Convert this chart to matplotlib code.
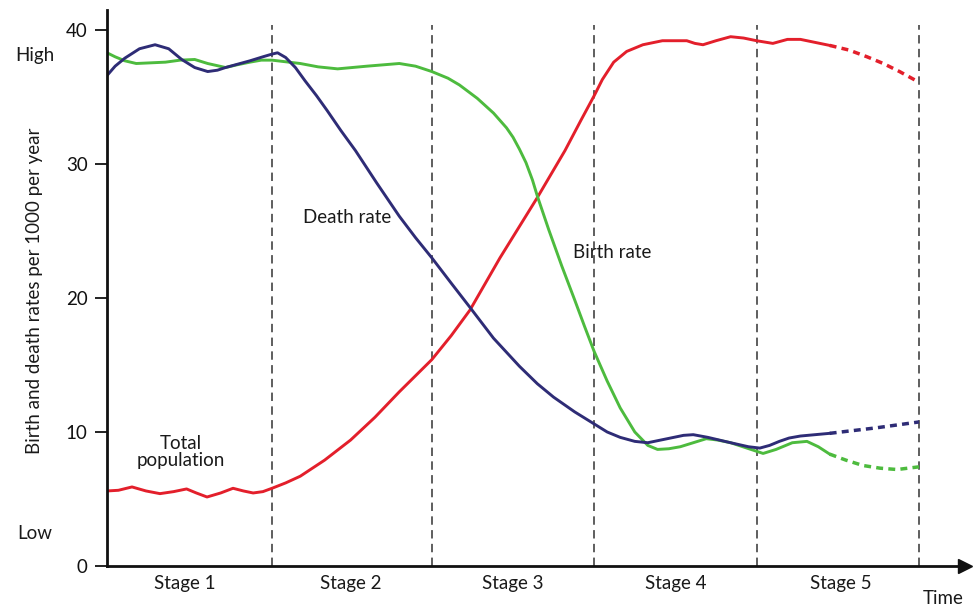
#!/usr/bin/env python

'''
demographic transition model: birth, death rates and total population
'''

import matplotlib
matplotlib.use('Agg')
import matplotlib.pyplot as plt

plt.rcParams['font.family'] = ['Lato', 'DejaVu Sans']

# time axis is measured in stages (0 .. 5)
DEATH_X = [0.0, 0.05, 0.11, 0.2, 0.296, 0.38, 0.46, 0.54, 0.62, 0.68, 0.73,
           0.88, 0.96, 1.016, 1.05, 1.10, 1.16, 1.22, 1.29, 1.355, 1.44, 1.53,
           1.66, 1.80, 1.90, 2.0, 2.12, 2.235, 2.38, 2.54, 2.65, 2.75, 2.88,
           3.0, 3.08, 3.16, 3.25, 3.33, 3.45, 3.55, 3.61, 3.70, 3.84, 3.95,
           4.02, 4.08, 4.14, 4.20, 4.27, 4.36, 4.45]
DEATH_Y = [36.6, 37.3, 37.9, 38.6, 38.9, 38.6, 37.8, 37.2, 36.9, 37.0, 37.2,
           37.7, 38.0, 38.2, 38.3, 37.95, 37.2, 36.2, 35.1, 34.0, 32.5, 31.0,
           28.6, 26.1, 24.5, 23.0, 21.1, 19.3, 17.0, 14.9, 13.6, 12.6, 11.5,
           10.6, 10.0, 9.6, 9.3, 9.2, 9.5, 9.75, 9.8, 9.6, 9.2, 8.9,
           8.8, 9.0, 9.3, 9.55, 9.7, 9.8, 9.9]
DEATH_PROJ_X = [4.45, 4.73, 5.0]
DEATH_PROJ_Y = [9.9, 10.3, 10.75]

BIRTH_X = [0.0, 0.05, 0.11, 0.18, 0.27, 0.36, 0.45, 0.54, 0.62, 0.73, 0.80,
           0.88, 0.95, 1.016, 1.19, 1.30, 1.42, 1.60, 1.80, 1.90, 2.0, 2.10,
           2.17, 2.28, 2.38, 2.46, 2.50, 2.54, 2.58, 2.62, 2.65, 2.72, 2.80,
           2.88, 2.94, 3.0, 3.08, 3.16, 3.25, 3.33, 3.39, 3.46, 3.53, 3.61,
           3.69, 3.76, 3.84, 3.94, 4.04, 4.12, 4.22, 4.31, 4.38, 4.45]
BIRTH_Y = [38.3, 38.0, 37.7, 37.5, 37.55, 37.6, 37.75, 37.8, 37.5, 37.2, 37.4,
           37.6, 37.75, 37.75, 37.5, 37.25, 37.1, 37.3, 37.5, 37.3, 36.9, 36.4,
           35.9, 34.9, 33.8, 32.7, 32.0, 31.1, 30.1, 28.8, 27.6, 25.1, 22.4,
           19.85, 17.9, 16.0, 13.8, 11.8, 10.0, 9.0, 8.7, 8.75, 8.9, 9.2,
           9.5, 9.4, 9.2, 8.8, 8.4, 8.7, 9.2, 9.3, 8.9, 8.35]
BIRTH_PROJ_X = [4.45, 4.55, 4.655, 4.76, 4.865, 5.0]
BIRTH_PROJ_Y = [8.35, 7.9, 7.5, 7.3, 7.2, 7.4]

POP_X = [0.0, 0.07, 0.154, 0.24, 0.326, 0.41, 0.49, 0.55, 0.616, 0.70, 0.776,
         0.84, 0.90, 0.96, 1.016, 1.10, 1.19, 1.34, 1.50, 1.65, 1.80, 1.90,
         2.0, 2.12, 2.235, 2.42, 2.65, 2.82, 2.92, 3.0, 3.05, 3.12, 3.20,
         3.30, 3.42, 3.57, 3.62, 3.67, 3.75, 3.84, 3.92, 4.0, 4.10, 4.19,
         4.27, 4.35, 4.45]
POP_Y = [5.6, 5.65, 5.9, 5.6, 5.4, 5.55, 5.75, 5.45, 5.15, 5.45, 5.8,
         5.6, 5.45, 5.55, 5.8, 6.2, 6.7, 7.9, 9.4, 11.1, 13.0, 14.2,
         15.4, 17.2, 19.1, 23.0, 27.5, 31.0, 33.3, 35.1, 36.3, 37.6, 38.4,
         38.9, 39.2, 39.2, 39.0, 38.9, 39.2, 39.5, 39.4, 39.2, 39.0, 39.3,
         39.3, 39.1, 38.85]
POP_PROJ_X = [4.45, 4.57, 4.68, 4.78, 4.88, 5.0]
POP_PROJ_Y = [38.85, 38.5, 38.0, 37.5, 36.9, 36.1]

STAGE_EDGES = [1.016, 2.0, 3.0, 4.0, 5.0]
STAGE_CENTERS = [0.48, 1.5, 2.5, 3.5, 4.52]
STAGE_LABELS = ['Stage 1', 'Stage 2', 'Stage 3', 'Stage 4', 'Stage 5']
Y_TICKS = [0, 10, 20, 30, 40]

NAVY = '#2e2c76'
GREEN = '#4dbb3e'
RED = '#e31f2b'
TEXT = '#1a1a1a'
LW = 2.1
PROJ_STYLE = (0, (2.0, 1.5))
FS = 13.5


def main():
    fig = plt.figure(figsize=(9.73, 6.07), dpi=100)
    ax = fig.add_axes([107 / 973, 41 / 607, (965 - 107) / 973, (566 - 10) / 607])
    ax.set_xlim(0, (965 - 107) / 162.4)
    ax.set_ylim(0, 556 / 13.4)

    for side in ('top', 'right'):
        ax.spines[side].set_visible(False)
    for side in ('left', 'bottom'):
        ax.spines[side].set_linewidth(2.0)
        ax.spines[side].set_color('#111111')

    ax.set_yticks(Y_TICKS)
    ax.tick_params(axis='y', direction='out', length=9, width=1.3,
                   labelsize=FS, pad=5, colors='#111111')
    ax.set_xticks([])

    # arrow head on the time axis
    ax.plot(1, 0, '>', color='#111111', markersize=10,
            transform=ax.transAxes, clip_on=False)

    ax.vlines(STAGE_EDGES, 0, 40.4, colors='#333333', linewidth=1.1,
              linestyles=[(0, (5.5, 3.5))])

    ax.plot(POP_X, POP_Y, color=RED, lw=LW, solid_joinstyle='round')
    ax.plot(POP_PROJ_X, POP_PROJ_Y, color=RED, lw=LW + 0.4, linestyle=PROJ_STYLE)
    ax.plot(BIRTH_X, BIRTH_Y, color=GREEN, lw=LW, solid_joinstyle='round')
    ax.plot(BIRTH_PROJ_X, BIRTH_PROJ_Y, color=GREEN, lw=LW + 0.4, linestyle=PROJ_STYLE)
    ax.plot(DEATH_X, DEATH_Y, color=NAVY, lw=LW, solid_joinstyle='round')
    ax.plot(DEATH_PROJ_X, DEATH_PROJ_Y, color=NAVY, lw=LW + 0.4, linestyle=PROJ_STYLE)

    for xc, label in zip(STAGE_CENTERS, STAGE_LABELS):
        ax.text(xc, -1.3, label, ha='center', va='center', fontsize=FS,
                clip_on=False, color=TEXT)
    ax.text(5.15, -2.4, 'Time', ha='center', va='center', fontsize=FS,
            clip_on=False, color=TEXT)

    ax.text(1.478, 26.0, 'Death rate', ha='center', va='center', fontsize=FS, color=TEXT)
    ax.text(3.11, 23.4, 'Birth rate', ha='center', va='center', fontsize=FS, color=TEXT)
    ax.text(0.456, 8.5, 'Total\npopulation', ha='center', va='center',
            fontsize=FS, linespacing=1.05, color=TEXT)

    ytrans = ax.get_yaxis_transform()
    ax.text(-0.084, 38.1, 'High', transform=ytrans, ha='center', va='center',
            fontsize=FS, color=TEXT)
    ax.text(-0.084, 2.46, 'Low', transform=ytrans, ha='center', va='center',
            fontsize=FS, color=TEXT)

    fig.text(35 / 973, 1 - 291 / 607, 'Birth and death rates per 1000 per year',
             rotation=90, ha='center', va='center', fontsize=FS, color=TEXT)

    fig.savefig('out.png', dpi=100)
    plt.close(fig)


if __name__ == '__main__':
    main()
